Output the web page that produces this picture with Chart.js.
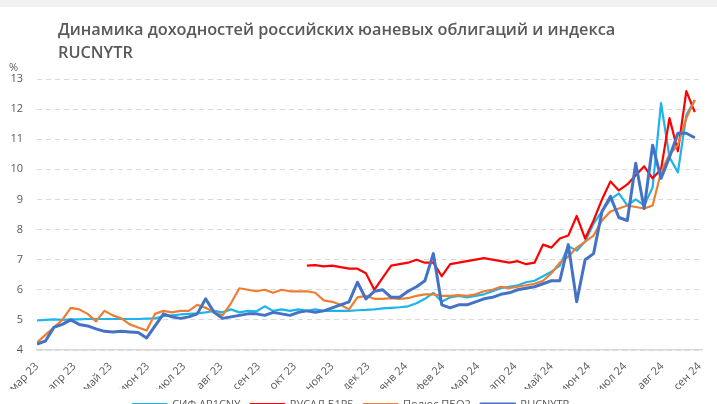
<!DOCTYPE html>
<html lang="ru">
<head>
<meta charset="utf-8">
<script src="https://cdn.jsdelivr.net/npm/chart.js@4.4.1/dist/chart.umd.min.js"></script>
<style>
  html, body { margin: 0; padding: 0; background: #fff; overflow: hidden; }
  #wrap { position: relative; width: 717px; height: 420px; }
</style>
</head>
<body>
<div id="wrap"><canvas id="yieldChart"></canvas></div>
<script>
// weekly points, x = days since 1 Mar 2023
const dayStep = 7;
const monthDays = [0, 31, 61, 92, 122, 153, 184, 214, 245, 275, 306, 337, 366, 397, 427, 458, 488, 519, 550];
const monthLabels = ['мар 23', 'апр 23', 'май 23', 'июн 23', 'июл 23', 'авг 23', 'сен 23', 'окт 23', 'ноя 23',
  'дек 23', 'янв 24', 'фев 24', 'мар 24', 'апр 24', 'май 24', 'июн 24', 'июл 24', 'авг 24', 'сен 24'];
const seriesNames = ['СИФ АР1CNY', 'РУСАЛ Б1Р5', 'Полюс ПБО2', 'RUCNYTR'];
const yTicks = [4, 5, 6, 7, 8, 9, 10, 11, 12, 13];

const sifCny = [4.98, 5.0, 5.02, 5.0, 5.02, 5.02, 5.03, 5.03, 5.03, 5.03,
  5.03, 5.03, 5.03, 5.04, 5.05, 5.12, 5.15, 5.18, 5.2, 5.22,
  5.25, 5.3, 5.25, 5.35, 5.25, 5.3, 5.28, 5.45, 5.3, 5.35,
  5.3, 5.35, 5.3, 5.35, 5.3, 5.3, 5.3, 5.3, 5.32, 5.33,
  5.35, 5.38, 5.4, 5.42, 5.45, 5.55, 5.7, 5.9, 5.6, 5.75,
  5.8, 5.75, 5.8, 5.85, 5.95, 6.05, 6.1, 6.15, 6.25, 6.3,
  6.45, 6.6, 6.8, 7.45, 7.3, 7.6, 8.2, 8.6, 9.0, 9.2,
  8.8, 9.0, 8.8, 9.4, 12.2, 10.4, 9.9, 11.8, 12.3];

const rusal = [null, null, null, null, null, null, null, null, null, null,
  null, null, null, null, null, null, null, null, null, null,
  null, null, null, null, null, null, null, null, null, null,
  null, null,
  6.8, 6.82, 6.78, 6.8, 6.75, 6.7, 6.7, 6.55, 6.0, 6.4,
  6.8, 6.85, 6.9, 7.0, 6.9, 6.9, 6.45, 6.85, 6.9, 6.95,
  7.0, 7.05, 7.0, 6.95, 6.9, 6.95, 6.85, 6.9, 7.5, 7.4,
  7.7, 7.8, 8.45, 7.7, 8.3, 9.0, 9.6, 9.3, 9.5, 9.8,
  10.1, 9.7, 10.0, 11.7, 10.6, 12.6, 11.9];

const polyus = [4.25, 4.5, 4.75, 5.0, 5.4, 5.35, 5.2, 4.95, 5.3, 5.15,
  5.05, 4.85, 4.75, 4.65, 5.2, 5.3, 5.25, 5.3, 5.3, 5.5,
  5.4, 5.25, 5.15, 5.55, 6.05, 6.0, 5.95, 6.0, 5.9, 6.0,
  5.95, 5.95, 5.95, 5.9, 5.65, 5.6, 5.5, 5.35, 5.75, 5.8,
  5.7, 5.7, 5.72, 5.7, 5.72, 5.8, 5.85, 5.85, 5.8, 5.8,
  5.82, 5.8, 5.85, 5.95, 6.0, 6.1, 6.05, 6.1, 6.15, 6.2,
  6.3, 6.55, 6.9, 7.1, 7.4, 7.6, 7.8, 8.3, 8.6, 8.7,
  8.8, 8.75, 8.7, 8.8, 9.9, 10.5, 10.8, 11.7, 12.3];

const rucnytr = [4.2, 4.3, 4.75, 4.85, 5.0, 4.85, 4.8, 4.7, 4.62, 4.6,
  4.62, 4.6, 4.58, 4.4, 4.8, 5.2, 5.1, 5.05, 5.1, 5.2,
  5.7, 5.25, 5.05, 5.1, 5.15, 5.2, 5.2, 5.15, 5.25, 5.2,
  5.15, 5.25, 5.3, 5.25, 5.3, 5.4, 5.5, 5.6, 6.25, 5.7,
  5.95, 6.0, 5.75, 5.75, 5.95, 6.1, 6.3, 7.2, 5.5, 5.4,
  5.5, 5.5, 5.6, 5.7, 5.75, 5.85, 5.9, 6.0, 6.05, 6.1,
  6.2, 6.3, 6.3, 7.5, 5.6, 7.0, 7.2, 8.6, 9.1, 8.4,
  8.3, 10.2, 8.7, 10.8, 9.7, 10.4, 11.2, 11.2, 11.05];

function toPoints(values) {
  return values
    .map((v, i) => ({ x: i * dayStep, y: v }))
    .filter(p => p.y !== null);
}

// title, "%" label and the grey strip on top
const decorPlugin = {
  id: 'decor',
  beforeDraw(chart) {
    const c = chart.ctx;
    c.save();
    c.fillStyle = '#f2f2f2';
    c.fillRect(0, 0, chart.width, 7);
    c.restore();
  },
  afterDraw(chart) {
    const c = chart.ctx;
    c.save();
    c.fillStyle = '#595959';
    c.textBaseline = 'middle';
    c.font = '600 16.3px "Open Sans"';
    c.fillText('Динамика доходностей российских юаневых облигаций и индекса', 58, 30);
    c.fillText('RUCNYTR', 58, 53);
    c.font = '11px "Open Sans"';
    c.fillText('%', 9, 68);
    c.restore();
  }
};

const canvasElement = document.getElementById('yieldChart');
const ctx = canvasElement.getContext('2d');

new Chart(ctx, {
  type: 'line',
  data: {
    datasets: [
      { label: seriesNames[0], data: toPoints(sifCny), borderColor: '#1cb4ec', backgroundColor: '#1cb4ec', borderWidth: 2.2, order: 4 },
      { label: seriesNames[1], data: toPoints(rusal), borderColor: '#ff0000', backgroundColor: '#ff0000', borderWidth: 2.2, order: 3 },
      { label: seriesNames[2], data: toPoints(polyus), borderColor: '#ed7d31', backgroundColor: '#ed7d31', borderWidth: 2.2, order: 2 },
      { label: seriesNames[3], data: toPoints(rucnytr), borderColor: '#4472c4', backgroundColor: '#4472c4', borderWidth: 3, order: 1 }
    ]
  },
  options: {
    responsive: true,
    maintainAspectRatio: false,
    animation: false,
    elements: {
      point: { radius: 0 },
      line: { tension: 0, borderJoinStyle: 'round' }
    },
    layout: { padding: { top: 79, right: 15, left: 0, bottom: 0 } },
    scales: {
      x: {
        type: 'linear',
        min: 0,
        max: 552,
        afterBuildTicks(scale) {
          scale.ticks = monthDays.map(d => ({ value: d }));
        },
        afterFit(scale) { scale.height = 39; },
        ticks: {
          autoSkip: false,
          minRotation: 45,
          maxRotation: 45,
          padding: 2,
          color: '#595959',
          font: { family: 'Open Sans', size: 11 },
          callback: (value) => monthLabels[monthDays.indexOf(value)]
        },
        grid: { display: false },
        border: { display: true, color: '#d9d9d9', width: 1.5 }
      },
      y: {
        min: 4,
        max: 13,
        afterBuildTicks(scale) {
          scale.ticks = yTicks.map(v => ({ value: v }));
        },
        afterFit(scale) { scale.width = 37; },
        ticks: {
          padding: 14,
          color: '#595959',
          font: { family: 'Open Sans', size: 11 }
        },
        grid: { color: '#d9d9d9', lineWidth: 1, drawTicks: false },
        border: { display: false, dash: [5, 4] }
      }
    },
    plugins: {
      legend: {
        position: 'bottom',
        labels: {
          boxWidth: 34,
          boxHeight: 1,
          padding: 10,
          color: '#595959',
          font: { family: 'Open Sans', size: 11 },
          sort: (a, b) => a.datasetIndex - b.datasetIndex
        }
      },
      tooltip: { enabled: false }
    }
  },
  plugins: [decorPlugin]
});
</script>
</body>
</html>
